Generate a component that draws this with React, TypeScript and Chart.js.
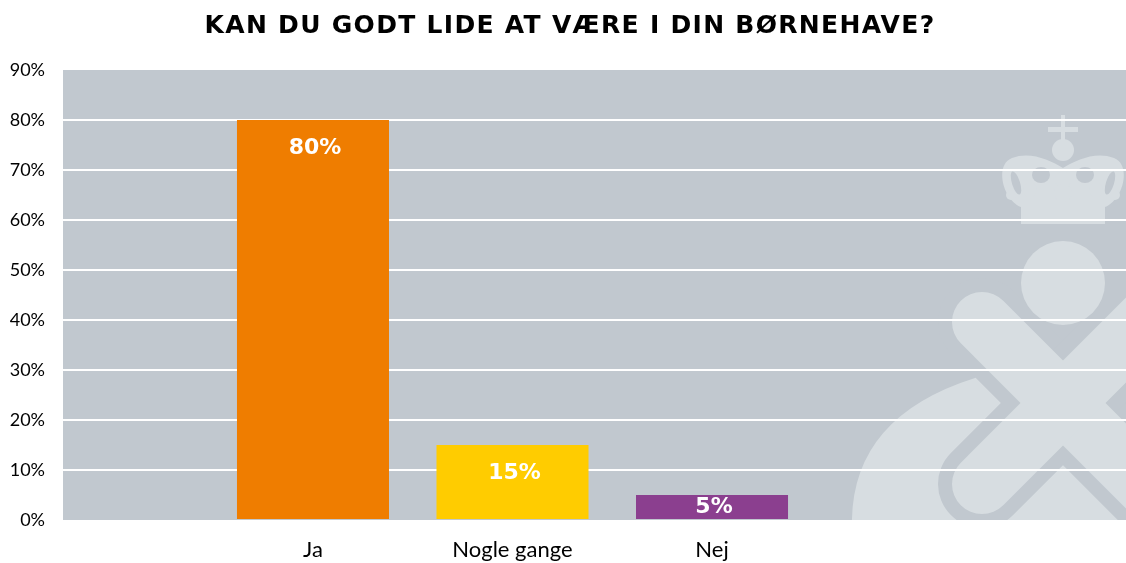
import React, { useEffect, useRef } from "react";
import { Chart, registerables } from "chart.js";

Chart.register(...registerables);

const TITLE = "KAN DU GODT LIDE AT VÆRE I DIN BØRNEHAVE?";
const categories = ["Ja", "Nogle gange", "Nej"];
const positions = [1, 2, 3];
const values = [80, 15, 5];
const barColors = ["#EF7D00", "#FFCC00", "#8B3F8F"];
const yTicks = [0, 10, 20, 30, 40, 50, 60, 70, 80, 90];

const PLOT_BG = "#C1C8CF";
const MARK = "#D7DDE1";

const bgPlugin = {
  id: "bgWatermark",
  beforeDraw(chart: any) {
    const { ctx, chartArea: a } = chart;
    ctx.save();
    ctx.fillStyle = PLOT_BG;
    ctx.fillRect(a.left, a.top, a.right - a.left, a.bottom - a.top);
    ctx.beginPath();
    ctx.rect(a.left, a.top, a.right - a.left, a.bottom - a.top);
    ctx.clip();
    const cx = a.right - 63;
    const cy = a.top + 333;
    const X = (d: number) => cx + d;
    const Y = (d: number) => cy + d;
    ctx.fillStyle = MARK;
    // ring / bowl
    ctx.beginPath();
    ctx.moveTo(X(-211), Y(127));
    ctx.quadraticCurveTo(X(-215), Y(15), X(-88), Y(-25));
    ctx.lineTo(X(-78), Y(-31));
    ctx.lineTo(X(0), Y(27));
    ctx.lineTo(X(137), Y(160));
    ctx.lineTo(X(-211), Y(160));
    ctx.closePath();
    ctx.fill();
    // X arms: gap then fill
    const arms = [
      [X(-81), Y(-81), X(160), Y(160)],
      [X(-81), Y(81), X(160), Y(-160)],
    ];
    ctx.lineCap = "round";
    ctx.strokeStyle = PLOT_BG;
    ctx.lineWidth = 88;
    for (const [x1, y1, x2, y2] of arms) {
      ctx.beginPath();
      ctx.moveTo(x1, y1);
      ctx.lineTo(x2, y2);
      ctx.stroke();
    }
    ctx.strokeStyle = MARK;
    ctx.lineWidth = 60;
    for (const [x1, y1, x2, y2] of arms) {
      ctx.beginPath();
      ctx.moveTo(x1, y1);
      ctx.lineTo(x2, y2);
      ctx.stroke();
    }
    // head
    ctx.beginPath();
    ctx.arc(X(0), Y(-120), 42, 0, Math.PI * 2);
    ctx.fill();
    // crown
    ctx.fillRect(X(-42), Y(-203), 84, 24);
    ctx.beginPath();
    ctx.moveTo(X(-42), Y(-179));
    ctx.lineTo(X(-42), Y(-196));
    ctx.bezierCurveTo(X(-60), Y(-203), X(-69), Y(-238), X(-51), Y(-245));
    ctx.bezierCurveTo(X(-33), Y(-252), X(-13), Y(-243), X(0), Y(-235));
    ctx.bezierCurveTo(X(13), Y(-243), X(33), Y(-252), X(51), Y(-245));
    ctx.bezierCurveTo(X(69), Y(-238), X(60), Y(-203), X(42), Y(-196));
    ctx.lineTo(X(42), Y(-179));
    ctx.closePath();
    ctx.fill();
    ctx.fillStyle = PLOT_BG;
    for (const s of [-1, 1]) {
      ctx.beginPath();
      ctx.ellipse(X(s * 47), Y(-220), 4, 12, s * 0.3, 0, Math.PI * 2);
      ctx.fill();
      ctx.beginPath();
      ctx.ellipse(X(s * 22), Y(-228), 9, 8, 0, 0, Math.PI * 2);
      ctx.fill();
    }
    ctx.fillStyle = MARK;
    for (const [dx, dy, r] of [
      [0, -223, 8],
      [0, -210, 9],
      [-33, -213, 7],
      [33, -213, 7],
      [-52, -208, 5],
      [52, -208, 5],
    ]) {
      ctx.beginPath();
      ctx.arc(X(dx), Y(dy), r, 0, Math.PI * 2);
      ctx.fill();
    }
    ctx.beginPath();
    ctx.arc(X(0), Y(-253), 11, 0, Math.PI * 2);
    ctx.fill();
    ctx.fillRect(X(-2), Y(-288), 4, 28);
    ctx.fillRect(X(-15), Y(-276), 30, 5);
    ctx.restore();
  },
};

const labelPlugin = {
  id: "barLabels",
  afterDatasetsDraw(chart: any) {
    const { ctx } = chart;
    const meta = chart.getDatasetMeta(0);
    ctx.save();
    ctx.fillStyle = "#FFFFFF";
    ctx.font = "bold 22px 'DejaVu Sans'";
    ctx.textAlign = "center";
    ctx.textBaseline = "middle";
    meta.data.forEach((bar: any, i: number) => {
      const { x, y, base } = bar.getProps(["x", "y", "base"], true);
      const off = Math.min(28, (base - y) / 2);
      ctx.fillText(values[i] + "%", x + 2, y + off);
    });
    ctx.restore();
  },
};

const titlePlugin = {
  id: "customTitle",
  afterDraw(chart: any) {
    const { ctx, width } = chart;
    ctx.save();
    ctx.fillStyle = "#000000";
    ctx.font = "bold 25px 'DejaVu Sans'";
    (ctx as any).letterSpacing = "1.3px";
    ctx.textAlign = "center";
    ctx.textBaseline = "alphabetic";
    ctx.fillText(TITLE, width / 2 + 7, 33);
    ctx.restore();
  },
};

export default function App() {
  const ref = useRef<HTMLCanvasElement | null>(null);
  useEffect(() => {
    if (!ref.current) return;
    const chart = new Chart(ref.current, {
      type: "bar",
      data: {
        datasets: [
          {
            data: positions.map((p, i) => ({ x: p, y: values[i] })),
            backgroundColor: barColors,
            categoryPercentage: 1,
            barPercentage: 0.762,
          },
        ],
      },
      options: {
        animation: false,
        responsive: true,
        maintainAspectRatio: false,
        layout: { padding: { top: 70, bottom: 0, left: 0, right: 0 } },
        plugins: {
          legend: { display: false },
          title: { display: false },
          tooltip: { enabled: false },
        },
        scales: {
          x: {
            type: "linear",
            offset: false,
            min: -0.253,
            max: 5.075,
            afterBuildTicks: (s: any) => {
              s.ticks = positions.map((v) => ({ value: v }));
            },
            afterFit: (s: any) => {
              s.height = 43;
            },
            ticks: {
              autoSkip: false,
              maxRotation: 0,
              padding: 17,
              color: "#000000",
              font: { family: "Lato", size: 22 },
              callback: (v: any) => categories[positions.indexOf(Number(v))] ?? "",
            },
            grid: { display: false, drawTicks: false },
            border: { display: false },
          },
          y: {
            min: 0,
            max: 90,
            afterBuildTicks: (s: any) => {
              s.ticks = yTicks.map((v) => ({ value: v }));
            },
            afterFit: (s: any) => {
              s.width = 63;
            },
            ticks: {
              padding: 18,
              color: "#000000",
              font: { family: "Lato", size: 18 },
              callback: (v: any) => v + "%",
            },
            grid: {
              drawTicks: false,
              lineWidth: 2,
              color: (c: any) =>
                c.tick && (c.tick.value === 0 || c.tick.value === 90)
                  ? "rgba(0,0,0,0)"
                  : "#FFFFFF",
            },
            border: { display: false },
          },
        },
      },
      plugins: [bgPlugin, labelPlugin, titlePlugin],
    });
    return () => chart.destroy();
  }, []);
  return (
    <div
      style={{
        position: "absolute",
        left: 0,
        top: 0,
        width: "1126px",
        height: "563px",
        background: "#FFFFFF",
      }}
    >
      <canvas ref={ref} />
    </div>
  );
}
